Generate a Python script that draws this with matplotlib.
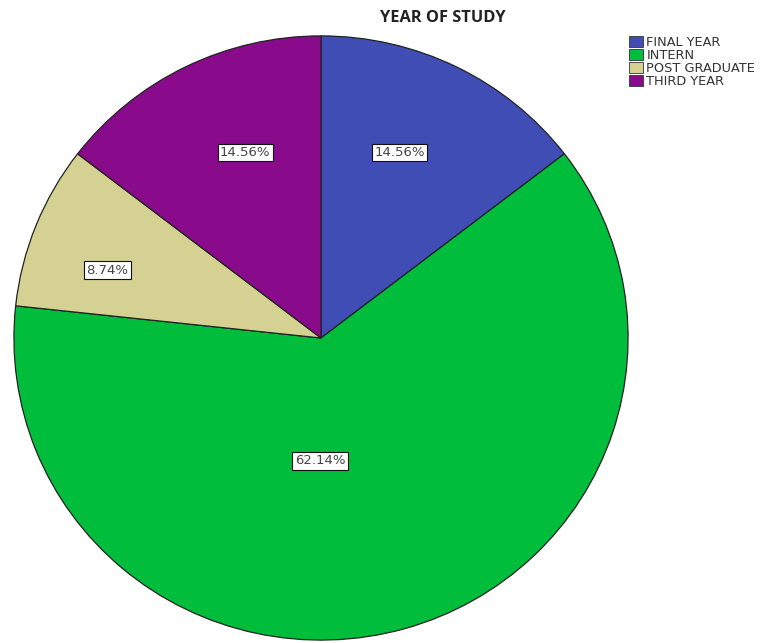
import matplotlib
matplotlib.use("Agg")
import matplotlib.pyplot as plt
from matplotlib.patches import Patch

categories = ["FINAL YEAR", "INTERN", "POST GRADUATE", "THIRD YEAR"]
counts = [15, 64, 9, 15]
colors = ["#3F4DB5", "#00BE3C", "#D5D193", "#8A0A8C"]
title = "YEAR OF STUDY"

# label anchor points in pie data units
label_pos = [(0.256, 0.614), (-0.003, -0.406), (-0.695, 0.224), (-0.247, 0.614)]

fig = plt.figure(figsize=(7.67, 6.43), dpi=100)
ax = fig.add_axes([13 / 767, 2 / 643, 616 / 767, 606 / 643])

total = sum(counts)
wedges, _ = ax.pie(counts, colors=colors, startangle=90, counterclock=False,
                   radius=1.0, wedgeprops=dict(edgecolor="#222222", linewidth=0.9))
ax.set_aspect("auto")
ax.set_xlim(-1.003, 1.003)
ax.set_ylim(-1.003, 1.003)

for c, (x, y) in zip(counts, label_pos):
    ax.text(x, y, f"{100 * c / total:.2f}%", ha="center", va="center",
            fontsize=9.5, color="#444444", family="DejaVu Sans",
            bbox=dict(boxstyle="square,pad=0.18", facecolor="white",
                      edgecolor="#111111", linewidth=0.8))

fig.text(443 / 767, 1 - 17.5 / 643, title, ha="center", va="center",
         fontsize=11.8, fontweight="bold", color="#222222", family="Open Sans")

handles = [Patch(facecolor=col, edgecolor="#333333", linewidth=0.6) for col in colors]
leg = fig.legend(handles, categories, loc="upper left",
                 bbox_to_anchor=(629 / 767, 1 - 36 / 643), frameon=False,
                 prop={"family": "DejaVu Sans", "size": 9.3},
                 handlelength=1.1, handleheight=0.9, handletextpad=0.25,
                 labelspacing=0.0, borderpad=0.0, borderaxespad=0.0)
for t in leg.get_texts():
    t.set_color("#333333")

fig.savefig("out.png", dpi=100)
